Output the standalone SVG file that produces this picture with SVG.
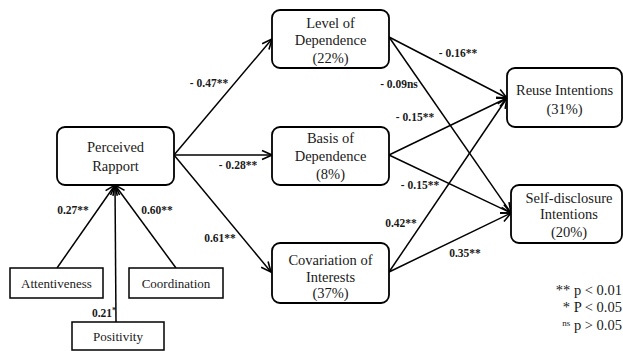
<svg xmlns="http://www.w3.org/2000/svg" width="623" height="351" viewBox="0 0 623 351">
<style>
.box{fill:#fff;stroke:#000;stroke-width:1.8}
.sq{fill:#fff;stroke:#000;stroke-width:1.5}
.t{font-family:"Liberation Serif","Times New Roman",serif;font-size:14.5px;fill:#1a1a1a;text-anchor:middle}
.ts{font-family:"Liberation Serif","Times New Roman",serif;font-size:13px;fill:#1a1a1a;text-anchor:middle}
.l{font-family:"Liberation Serif","Times New Roman",serif;font-size:11.5px;font-weight:bold;fill:#1a1a1a;text-anchor:middle}
.lg{font-family:"Liberation Serif","Times New Roman",serif;font-size:14.5px;fill:#1a1a1a;text-anchor:end}
.c{stroke:#000;stroke-width:1.5;fill:none;marker-end:url(#ah)}
</style>
<defs>
<marker id="ah" markerUnits="userSpaceOnUse" markerWidth="12" markerHeight="12" viewBox="0 0 12 12" refX="11" refY="6" orient="auto">
<path d="M1,1.5 L11,6 L1,10.5" fill="none" stroke="#000" stroke-width="1.6"/>
</marker>
</defs>
<rect width="623" height="351" fill="#fff"/>
<g id="connectors">
<line class="c" x1="174" y1="155" x2="272" y2="39"/>
<line class="c" x1="174" y1="155" x2="272" y2="155"/>
<line class="c" x1="174" y1="155" x2="271" y2="272"/>
<line class="c" x1="57" y1="268" x2="115" y2="185"/>
<line class="c" x1="116" y1="322" x2="115" y2="185"/>
<line class="c" x1="176" y1="268" x2="115" y2="185"/>
<line class="c" x1="389" y1="37" x2="507" y2="98"/>
<line class="c" x1="389" y1="37" x2="511" y2="213"/>
<line class="c" x1="389" y1="155" x2="507" y2="98"/>
<line class="c" x1="389" y1="155" x2="511" y2="213"/>
<line class="c" x1="389" y1="272" x2="507" y2="98"/>
<line class="c" x1="389" y1="272" x2="511" y2="213"/>
</g>
<g id="labels">
<text class="l" x="209" y="87">- 0.47**</text>
<text class="l" x="238" y="169">- 0.28**</text>
<text class="l" x="220" y="242">0.61**</text>
<text class="l" x="73" y="214">0.27**</text>
<text class="l" x="157" y="214">0.60**</text>
<text class="l" x="104" y="317">0.21<tspan font-size="8" dy="-4">*</tspan></text>
<text class="l" x="458" y="57">- 0.16**</text>
<text class="l" x="399" y="88">- 0.09ns</text>
<text class="l" x="415" y="121">- 0.15**</text>
<text class="l" x="420" y="189">- 0.15**</text>
<text class="l" x="401" y="227">0.42**</text>
<text class="l" x="465" y="257">0.35**</text>
</g>
<g id="perceived-rapport">
<rect class="box" x="57" y="127" width="117" height="58" rx="8"/>
<text class="t" x="115.5" y="152">Perceived</text>
<text class="t" x="115.5" y="171">Rapport</text>
</g>
<g id="level-of-dependence">
<rect class="box" x="272" y="10" width="117" height="58" rx="8"/>
<text class="t" x="330.5" y="28">Level of</text>
<text class="t" x="330.5" y="45">Dependence</text>
<text class="t" x="330.5" y="63">(22%)</text>
</g>
<g id="basis-of-dependence">
<rect class="box" x="272" y="127" width="117" height="58" rx="8"/>
<text class="t" x="330.5" y="143">Basis of</text>
<text class="t" x="330.5" y="161">Dependence</text>
<text class="t" x="330.5" y="179">(8%)</text>
</g>
<g id="covariation-of-interests">
<rect class="box" x="272" y="243" width="117" height="60" rx="8"/>
<text class="t" x="330.5" y="265">Covariation of</text>
<text class="t" x="330.5" y="282">Interests</text>
<text class="t" x="330.5" y="298">(37%)</text>
</g>
<g id="reuse-intentions">
<rect class="box" x="507" y="68" width="115" height="59" rx="8"/>
<text class="t" x="564.5" y="95">Reuse Intentions</text>
<text class="t" x="564.5" y="114">(31%)</text>
</g>
<g id="self-disclosure-intentions">
<rect class="box" x="511" y="185" width="111" height="58" rx="8"/>
<text class="t" x="569" y="203">Self-disclosure</text>
<text class="t" x="569" y="219">Intentions</text>
<text class="t" x="569" y="237">(20%)</text>
</g>
<g id="attentiveness">
<rect class="sq" x="10" y="268" width="93" height="30"/>
<text class="ts" x="56.5" y="288">Attentiveness</text>
</g>
<g id="coordination">
<rect class="sq" x="129" y="268" width="94" height="30"/>
<text class="ts" x="176" y="288">Coordination</text>
</g>
<g id="positivity">
<rect class="sq" x="72" y="322" width="92" height="28"/>
<text class="ts" x="118" y="341">Positivity</text>
</g>
<g id="legend">
<text class="lg" x="622" y="295">** p &lt; 0.01</text>
<text class="lg" x="622" y="312">* P &lt; 0.05</text>
<text class="lg" x="622" y="330"><tspan font-size="9" dy="-4">ns</tspan><tspan dy="4"> p &gt; 0.05</tspan></text>
</g>
</svg>
